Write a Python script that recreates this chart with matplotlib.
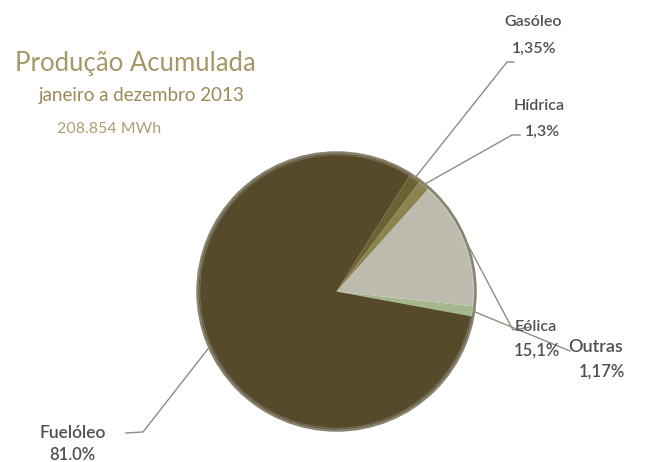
import numpy as np
import matplotlib
matplotlib.use("Agg")
import matplotlib.pyplot as plt
from matplotlib.patches import Circle

# Produção acumulada por fonte (%), pela ordem em que as fatias são desenhadas
fontes = ["Outras", "Eólica", "Hídrica", "Gasóleo", "Fuelóleo"]
valores = [1.17, 15.1, 1.3, 1.35, 81.0]
rotulos = ["1,17%", "15,1%", "1,3%", "1,35%", "81.0%"]
cores = ["#a3b88c", "#bcbbad", "#8b8450", "#6c6334", "#564a2b"]

titulo = "Produção Acumulada"
periodo = "janeiro a dezembro 2013"
total = "208.854 MWh"

plt.rcParams["font.family"] = ["Lato", "DejaVu Sans"]

W, H = 655, 462
fig = plt.figure(figsize=(W / 100, H / 100), dpi=100)
ax = fig.add_axes([0, 0, 1, 1])

cx, cy, r = 336.5, H - 291.5, 139.0
wedges, _ = ax.pie(valores, colors=cores, startangle=-10.4, counterclock=True,
                   center=(cx, cy), radius=r,
                   wedgeprops=dict(linewidth=0, antialiased=True))
# rebordo sombreado do disco
ax.add_patch(Circle((cx, cy), r, fill=False, edgecolor="#86826f", linewidth=1.8, zorder=5))
ax.add_patch(Circle((cx, cy), r - 2.3, fill=False, edgecolor="#ffffff", linewidth=0.6,
                    alpha=0.25, zorder=5))

ax.set_xlim(0, W)
ax.set_ylim(0, H)
ax.set_aspect("equal")
ax.axis("off")


def ponto_borda(w):
    ang = np.deg2rad((w.theta1 + w.theta2) / 2)
    return cx + r * np.cos(ang), cy + r * np.sin(ang)


def px(x, y):
    return x, H - y


cor_linha = "#8e8d82"
cor_texto = "#505050"

# linhas de chamada: (cotovelo, fim) em pixels
chamadas = {
    "Gasóleo": [(507, 62), (514, 62)],
    "Hídrica": [(512, 135), (520, 135)],
    "Eólica": [(513, 330), (530, 327)],
    "Outras": [(570, 351)],
    "Fuelóleo": [(143, 432), (126, 433)],
}
for nome, w in zip(fontes, wedges):
    x0, y0 = ponto_borda(w)
    pts = [(x0, y0)] + [px(*p) for p in chamadas[nome]]
    xs, ys = zip(*pts)
    ax.plot(xs, ys, color=cor_linha, linewidth=1.0, zorder=6)

# posição dos rótulos (x, y em pixels, alinhamento, tamanho)
pos_rotulo = {
    "Gasóleo": (533, 22, "center", 11.5),
    "Hídrica": (539, 106, "center", 11.5),
    "Eólica": (515, 327, "left", 11.5),
    "Outras": (596, 347, "center", 13),
    "Fuelóleo": (73, 433, "center", 12.5),
}
pos_valor = {
    "Gasóleo": (534, 49, "center", 11.5),
    "Hídrica": (542, 132, "center", 11.5),
    "Eólica": (514, 351, "left", 12),
    "Outras": (602, 372, "center", 12),
    "Fuelóleo": (72, 455, "center", 12),
}
for nome, rot in zip(fontes, rotulos):
    x, y, ha, fs = pos_rotulo[nome]
    ax.text(x, H - y, nome, ha=ha, va="center", fontsize=fs, color=cor_texto,
            fontweight="semibold", zorder=7)
    x, y, ha, fs = pos_valor[nome]
    ax.text(x, H - y, rot, ha=ha, va="center", fontsize=fs, color=cor_texto,
            fontweight="semibold", zorder=7)

ax.text(15, H - 64, titulo, ha="left", va="center", fontsize=18.5, color="#a69766")
ax.text(39, H - 96, periodo, ha="left", va="center", fontsize=13.5, color="#9b8b58")
ax.text(57, H - 129, total, ha="left", va="center", fontsize=11.5, color="#ad9f72")

fig.savefig("out.png", dpi=100, facecolor="white")
